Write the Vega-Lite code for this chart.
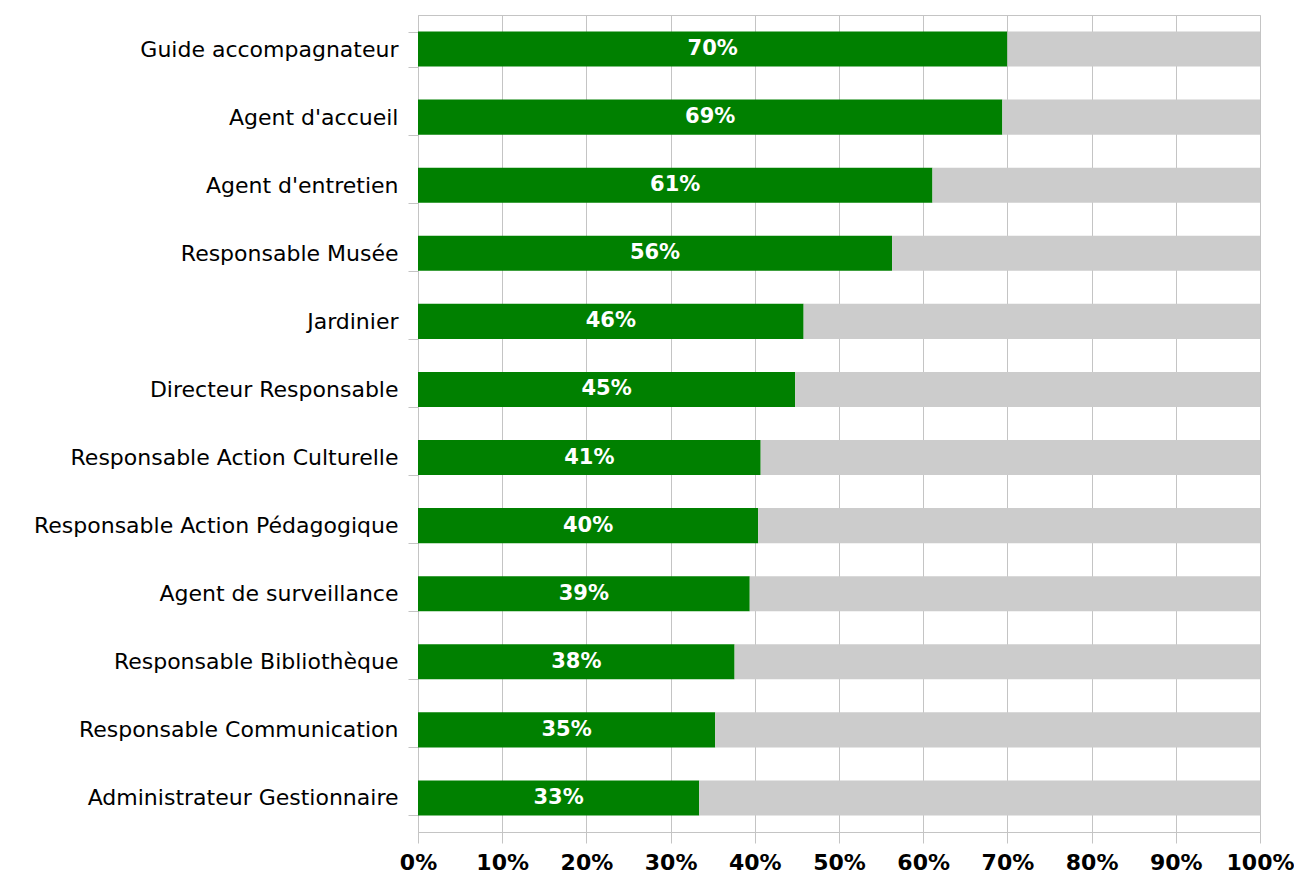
{
  "$schema": "https://vega.github.io/schema/vega-lite/v6.json",
  "autosize": "none",
  "padding": {"left": 418, "top": 15, "right": 34, "bottom": 44},
  "width": 842,
  "height": 817,
  "background": "white",
  "config": {
    "font": "DejaVu Sans",
    "view": {"stroke": "#c4c4c4", "strokeWidth": 1}
  },
  "data": {
    "values": [
      {"metier": "Guide accompagnateur", "part": "oui", "pct": 0.700},
      {"metier": "Agent d'accueil", "part": "oui", "pct": 0.694},
      {"metier": "Agent d'entretien", "part": "oui", "pct": 0.611},
      {"metier": "Responsable Musée", "part": "oui", "pct": 0.563},
      {"metier": "Jardinier", "part": "oui", "pct": 0.458},
      {"metier": "Directeur Responsable", "part": "oui", "pct": 0.448},
      {"metier": "Responsable Action Culturelle", "part": "oui", "pct": 0.407},
      {"metier": "Responsable Action Pédagogique", "part": "oui", "pct": 0.404},
      {"metier": "Agent de surveillance", "part": "oui", "pct": 0.394},
      {"metier": "Responsable Bibliothèque", "part": "oui", "pct": 0.376},
      {"metier": "Responsable Communication", "part": "oui", "pct": 0.353},
      {"metier": "Administrateur Gestionnaire", "part": "oui", "pct": 0.334},
      {"metier": "Guide accompagnateur", "part": "non", "pct": 0.300},
      {"metier": "Agent d'accueil", "part": "non", "pct": 0.306},
      {"metier": "Agent d'entretien", "part": "non", "pct": 0.389},
      {"metier": "Responsable Musée", "part": "non", "pct": 0.437},
      {"metier": "Jardinier", "part": "non", "pct": 0.542},
      {"metier": "Directeur Responsable", "part": "non", "pct": 0.552},
      {"metier": "Responsable Action Culturelle", "part": "non", "pct": 0.593},
      {"metier": "Responsable Action Pédagogique", "part": "non", "pct": 0.596},
      {"metier": "Agent de surveillance", "part": "non", "pct": 0.606},
      {"metier": "Responsable Bibliothèque", "part": "non", "pct": 0.624},
      {"metier": "Responsable Communication", "part": "non", "pct": 0.647},
      {"metier": "Administrateur Gestionnaire", "part": "non", "pct": 0.666}
    ]
  },
  "encoding": {
    "y": {
      "field": "metier",
      "type": "nominal",
      "sort": null,
      "title": null,
      "scale": {"paddingInner": 0.485, "paddingOuter": 0.2425},
      "axis": {
        "tickBand": "extent",
        "domainColor": "#c4c4c4",
        "tickColor": "#c4c4c4",
        "tickSize": 10,
        "labelFontSize": 22,
        "labelColor": "#000000",
        "labelPadding": 10,
        "labelLimit": 500,
        "grid": false
      }
    }
  },
  "layer": [
    {
      "mark": {"type": "bar"},
      "encoding": {
        "x": {
          "field": "pct",
          "type": "quantitative",
          "stack": "zero",
          "scale": {"domain": [0, 1]},
          "title": null,
          "axis": {
            "format": ".0%",
            "values": [0, 0.1, 0.2, 0.3, 0.4, 0.5, 0.6, 0.7, 0.8, 0.9, 1],
            "grid": true,
            "gridColor": "#c4c4c4",
            "domainColor": "#c4c4c4",
            "tickColor": "#c4c4c4",
            "tickSize": 11,
            "labelFontSize": 22,
            "labelFontWeight": "bold",
            "labelColor": "#000000",
            "labelPadding": 9,
            "labelFlush": false
          }
        },
        "color": {
          "field": "part",
          "type": "nominal",
          "scale": {"domain": ["oui", "non"], "range": ["#008000", "#cccccc"]},
          "legend": null
        },
        "order": {"field": "part", "sort": "descending"}
      }
    },
    {
      "transform": [{"filter": "datum.part === 'oui'"}],
      "mark": {"type": "text", "color": "white", "fontWeight": "bold", "fontSize": 21, "align": "center", "baseline": "middle"},
      "encoding": {
        "x": {"field": "pct", "type": "quantitative", "stack": "zero", "bandPosition": 0.5},
        "text": {"field": "pct", "type": "quantitative", "format": ".0%"}
      }
    }
  ]
}
